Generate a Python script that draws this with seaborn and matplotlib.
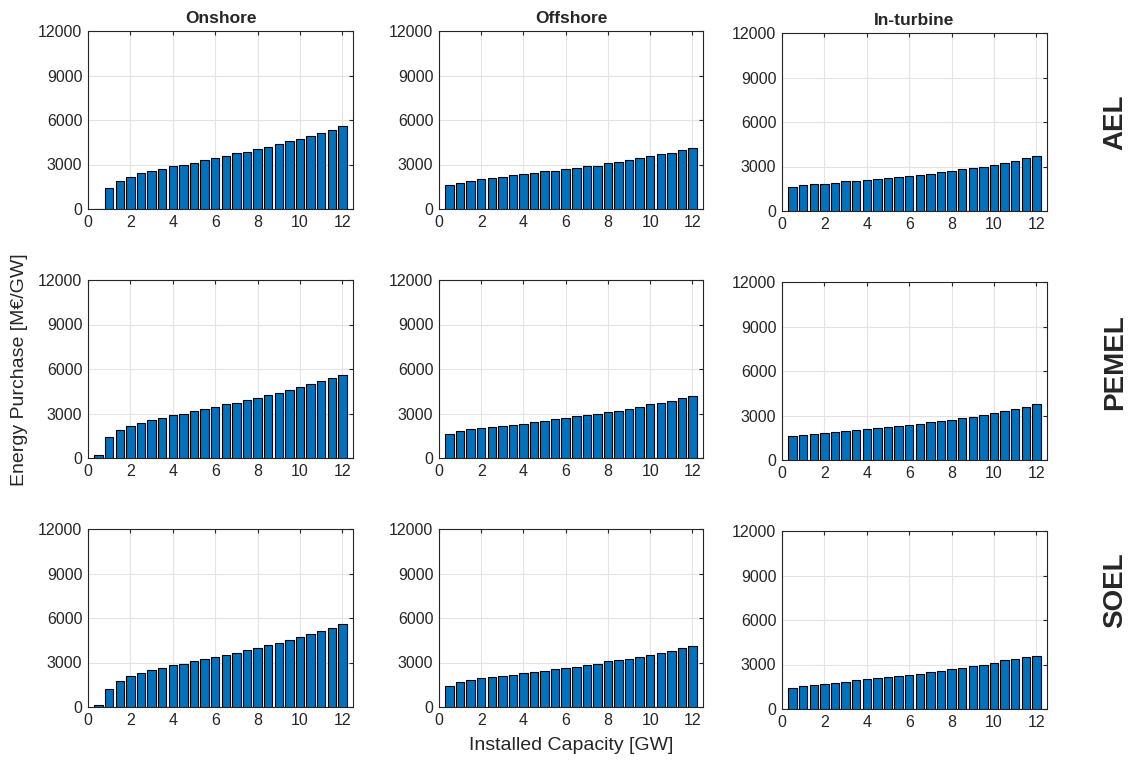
import numpy as np
import pandas as pd
import matplotlib
matplotlib.use('Agg')
import matplotlib.pyplot as plt
import seaborn as sns

# installed capacity steps [GW]
capacity = [0.5, 1.0, 1.5, 2.0, 2.5, 3.0, 3.5, 4.0, 4.5, 5.0, 5.5, 6.0,
            6.5, 7.0, 7.5, 8.0, 8.5, 9.0, 9.5, 10.0, 10.5, 11.0, 11.5, 12.0]

locations = ['Onshore', 'Offshore', 'In-turbine']
electrolysers = ['AEL', 'PEMEL', 'SOEL']

# energy purchase [M€/GW]
ael_onshore = [0, 1400, 1910, 2160, 2400, 2580, 2710, 2890, 3000, 3130, 3310, 3440,
               3560, 3760, 3870, 4040, 4180, 4380, 4560, 4730, 4930, 5110, 5330, 5600]
ael_offshore = [1600, 1780, 1910, 2020, 2090, 2160, 2270, 2330, 2400, 2530, 2580, 2710,
                2780, 2870, 2930, 3070, 3200, 3330, 3440, 3560, 3690, 3800, 4000, 4110]
ael_inturbine = [1650, 1720, 1790, 1850, 1920, 1990, 2030, 2100, 2160, 2210, 2270, 2380,
                 2450, 2520, 2650, 2710, 2820, 2930, 3000, 3110, 3240, 3380, 3550, 3730]

pemel_onshore = [220, 1440, 1890, 2180, 2360, 2560, 2730, 2870, 3000, 3160, 3290, 3420,
                 3620, 3730, 3910, 4020, 4220, 4400, 4580, 4780, 4960, 5220, 5400, 5620]
pemel_offshore = [1620, 1820, 1930, 2000, 2070, 2180, 2240, 2310, 2440, 2490, 2620, 2690,
                  2800, 2870, 3000, 3110, 3180, 3290, 3420, 3620, 3730, 3840, 4020, 4160]
pemel_inturbine = [1620, 1670, 1730, 1800, 1870, 1930, 2000, 2070, 2130, 2240, 2310, 2360,
                   2420, 2560, 2620, 2730, 2800, 2930, 3040, 3180, 3290, 3420, 3600, 3800]

soel_onshore = [160, 1240, 1760, 2070, 2310, 2490, 2620, 2800, 2930, 3110, 3220, 3400,
                3530, 3670, 3840, 3980, 4160, 4330, 4530, 4710, 4910, 5130, 5330, 5580]
soel_offshore = [1440, 1690, 1820, 1930, 2000, 2070, 2180, 2270, 2380, 2440, 2560, 2620,
                 2730, 2800, 2930, 3070, 3180, 3240, 3360, 3530, 3670, 3780, 3980, 4090]
soel_inturbine = [1440, 1580, 1640, 1710, 1780, 1840, 1960, 2020, 2090, 2130, 2200, 2310,
                  2380, 2470, 2580, 2690, 2760, 2870, 3000, 3070, 3270, 3380, 3490, 3600]

series = {
    ('AEL', 'Onshore'): ael_onshore,
    ('AEL', 'Offshore'): ael_offshore,
    ('AEL', 'In-turbine'): ael_inturbine,
    ('PEMEL', 'Onshore'): pemel_onshore,
    ('PEMEL', 'Offshore'): pemel_offshore,
    ('PEMEL', 'In-turbine'): pemel_inturbine,
    ('SOEL', 'Onshore'): soel_onshore,
    ('SOEL', 'Offshore'): soel_offshore,
    ('SOEL', 'In-turbine'): soel_inturbine,
}

sns.set_style('whitegrid')
plt.rcParams['font.family'] = ['Liberation Sans', 'DejaVu Sans']
plt.rcParams['axes.edgecolor'] = '#262626'
plt.rcParams['axes.linewidth'] = 0.8

W, H = 1138, 761
fig = plt.figure(figsize=(W / 100, H / 100), dpi=100)

# axes boxes in pixels (left, right) per column, (top, bottom) per row
cols = [(88, 353), (439, 703), (782, 1047)]
rows = [(31, 209), (280, 458), (529, 707)]
col_shift = [0, 0, 2]
row_label_y = [122, 362, 590]

bar_color = '#0072BD'

for i, el in enumerate(electrolysers):
    for j, loc in enumerate(locations):
        l, r = cols[j]
        t, b = rows[i]
        t += col_shift[j]
        b += col_shift[j]
        ax = fig.add_axes([l / W, 1 - b / H, (r - l) / W, (b - t) / H])
        df = pd.DataFrame({'cap': capacity, 'val': series[(el, loc)]})
        sns.barplot(data=df, x='cap', y='val', native_scale=True, width=0.8,
                    color=bar_color, saturation=1, edgecolor='black',
                    linewidth=0.8, ax=ax, zorder=3)
        ax.set_xlim(0, 12.5)
        ax.set_ylim(0, 12000)
        ax.set_xticks(np.arange(0, 13, 2))
        ax.set_yticks(np.arange(0, 12001, 3000))
        ax.set_xlabel('')
        ax.set_ylabel('')
        ax.grid(True, color='#e3e3e3', linewidth=0.8, zorder=0)
        ax.set_axisbelow(True)
        ax.tick_params(direction='in', length=3, top=True, right=True,
                       labelsize=11.5, colors='#262626', pad=4)
        for s in ax.spines.values():
            s.set_color('#262626')
            s.set_linewidth(0.8)
        if i == 0:
            ax.set_title(loc, fontsize=12.5, fontweight='bold', pad=6)

# row labels
for i, el in enumerate(electrolysers):
    fig.text(1115 / W, 1 - row_label_y[i] / H, el, rotation=90, ha='center',
             va='center', fontsize=20, fontweight='bold')

fig.text(20 / W, 1 - 370 / H, 'Energy Purchase [M€/GW]', rotation=90,
         ha='center', va='center', fontsize=14, color='#262626')
fig.text(571 / W, 1 - 746 / H, 'Installed Capacity [GW]', ha='center',
         va='center', fontsize=14, color='#262626')

fig.savefig('out.png', dpi=100)
